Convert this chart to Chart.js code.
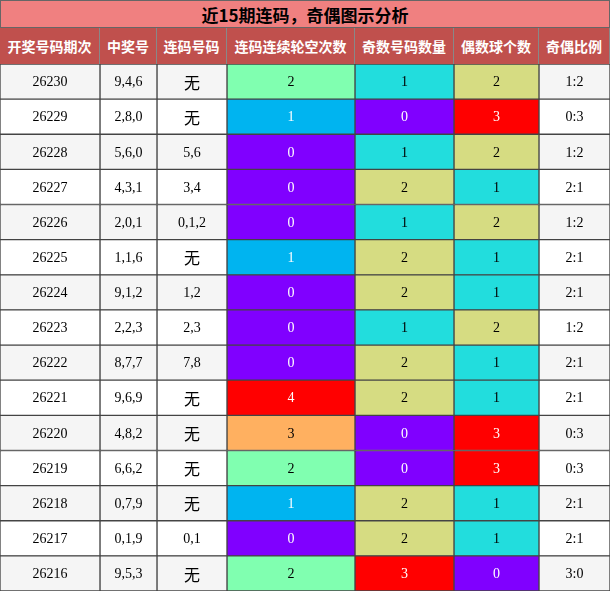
<!DOCTYPE html>
<html><head><meta charset="utf-8">
<script src="https://cdn.jsdelivr.net/npm/chart.js@4"></script>
<style>
body{margin:0;background:#fff;font-family:"Noto Sans CJK SC",sans-serif}
#title{height:28px;line-height:28px;background:#f08080;text-align:center;font-weight:bold;font-size:17px;color:#000;box-sizing:border-box;border:1px solid #666}
#head{display:flex;height:36px;background:#c0504d;color:#fff;font-weight:bold;font-size:14px}
#head div{line-height:36px;text-align:center;box-sizing:border-box;border-right:1px solid #888}
</style></head><body>
<div id="title">近15期连码，奇偶图示分析</div>
<div id="head"></div>
<canvas id="c" width="610" height="527"></canvas>
<script>
var headers = ['开奖号码期次','中奖号','连码号码','连码连续轮空次数','奇数号码数量','偶数球个数','奇偶比例'];
var colEdges = [0,100,157,227,355,454,539,610];
var periods = ['26230','26229','26228','26227','26226','26225','26224','26223','26222','26221','26220','26219','26218','26217','26216'];
var draws = ['9,4,6','2,8,0','5,6,0','4,3,1','2,0,1','1,1,6','9,1,2','2,2,3','8,7,7','9,6,9','4,8,2','6,6,2','0,7,9','0,1,9','9,5,3'];
var consec = ['无','无','5,6','3,4','0,1,2','无','1,2','2,3','7,8','无','无','无','无','0,1','无'];
var gaps = [2,1,0,0,0,1,0,0,0,4,3,2,1,0,2];
var oddCnt = [1,0,1,2,1,2,2,1,2,2,0,0,2,2,3];
var evenCnt = [2,3,2,1,2,1,1,2,1,1,3,3,1,1,0];

var gapColors = ['#8000ff','#00b4f0','#80ffb0','#ffb060','#ff0000'];
var cntColors = ['#8000ff','#22dddd','#d6dc82','#ff0000'];
var whiteText = ['#8000ff','#00b4f0','#ff0000'];

var h = document.getElementById('head');
headers.forEach(function(t,i){
  var d = document.createElement('div');
  d.style.width = (colEdges[i+1]-colEdges[i])+'px';
  d.textContent = t; h.appendChild(d);
});

var ratio = oddCnt.map(function(o,i){ return o+':'+evenCnt[i]; });
var cols = [periods, draws, consec, gaps, oddCnt, evenCnt, ratio];
var datasets = cols.map(function(vals,ci){
  var bg = vals.map(function(v,ri){
    if(ci==3) return gapColors[v];
    if(ci==4||ci==5) return cntColors[v];
    return ri%2==0 ? '#f5f5f5' : '#ffffff';
  });
  return {
    data: vals.map(function(){ return [colEdges[ci], colEdges[ci+1]]; }),
    texts: vals.map(String),
    backgroundColor: bg,
    borderColor: '#444', borderWidth: 1, borderSkipped: false,
    categoryPercentage: 1, barPercentage: 1
  };
});

var cellText = {
  id: 'cellText',
  afterDatasetsDraw: function(chart){
    var ctx = chart.ctx;
    ctx.save(); ctx.textAlign='center'; ctx.textBaseline='middle';
    chart.data.datasets.forEach(function(ds,di){
      chart.getDatasetMeta(di).data.forEach(function(el,i){
        var t = ds.texts[i];
        ctx.fillStyle = whiteText.indexOf(ds.backgroundColor[i])>=0 ? '#fff' : '#000';
        ctx.font = t=='无' ? '16px "Noto Sans CJK SC"' : '14px "Liberation Serif"';
        ctx.fillText(t, (el.x+el.base)/2, el.y+1);
      });
    });
    ctx.restore();
  }
};

new Chart(document.getElementById('c'), {
  type: 'bar',
  data: { labels: periods, datasets: datasets },
  options: {
    indexAxis: 'y', responsive: false, animation: false, devicePixelRatio: 1,
    layout: { padding: 0 },
    plugins: { legend: {display:false}, tooltip: {enabled:false} },
    scales: {
      x: { min: 0, max: 610, display: false },
      y: { stacked: true, display: false, offset: true }
    }
  },
  plugins: [cellText]
});
</script>
</body></html>
